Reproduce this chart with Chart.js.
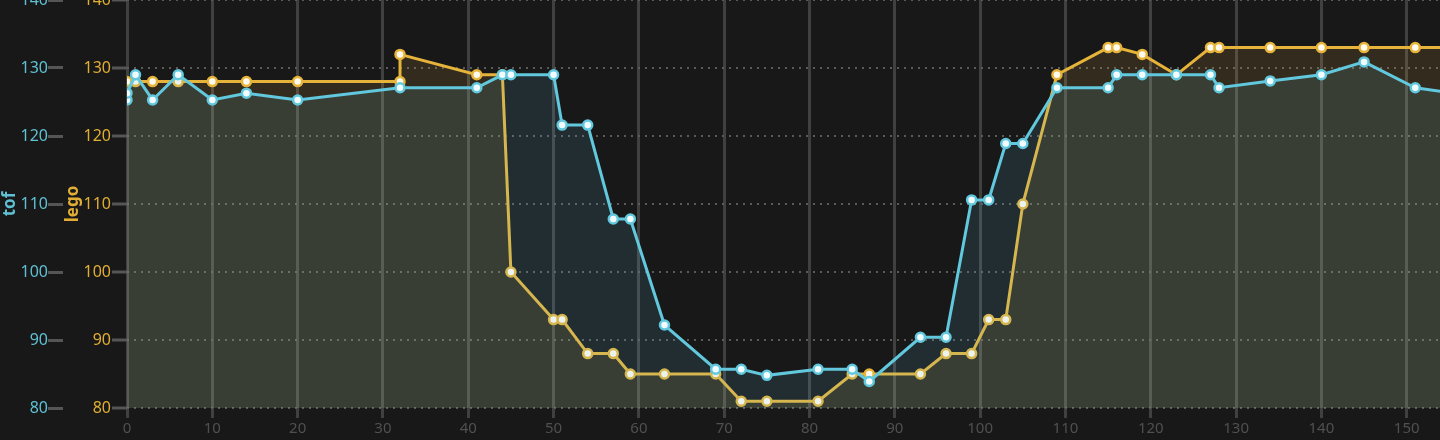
<!DOCTYPE html>
<html>
<head>
<meta charset="utf-8">
<script src="https://cdn.jsdelivr.net/npm/chart.js@4"></script>
<style>
  html, body { margin: 0; padding: 0; background: #181818; overflow: hidden; }
  #wrap { position: relative; width: 1440px; height: 440px; }
</style>
</head>
<body>
<div id="wrap"><canvas id="myChart"></canvas></div>
<script>
// tof series (cyan)
const tofX = [0, 0, 1, 3, 6, 10, 14, 20, 32, 41, 44, 45, 50, 51, 54, 57, 59, 63, 69, 72, 75, 81, 85, 87, 93, 96, 99, 101, 103, 105, 109, 115, 116, 119, 123, 127, 128, 134, 140, 145, 151, 156];
const tofY = [125.3, 126.3, 129, 125.3, 129, 125.3, 126.3, 125.3, 127.1, 127.1, 129, 129, 129, 121.6, 121.6, 107.8, 107.8, 92.2, 85.7, 85.7, 84.8, 85.7, 85.7, 83.9, 90.4, 90.4, 110.6, 110.6, 118.9, 118.9, 127.1, 127.1, 129, 129, 129, 129, 127.1, 128.1, 129, 130.9, 127.1, 126.2];

// lego series (yellow)
const legoX = [0, 1, 3, 6, 10, 14, 20, 32, 32, 41, 44, 45, 50, 51, 54, 57, 59, 63, 69, 72, 75, 81, 85, 87, 93, 96, 99, 101, 103, 105, 109, 115, 116, 119, 123, 127, 128, 134, 140, 145, 151, 156];
const legoY = [128, 128, 128, 128, 128, 128, 128, 128, 132, 129, 129, 100, 93, 93, 88, 88, 85, 85, 85, 81, 81, 81, 85, 85, 85, 88, 88, 93, 93, 110, 129, 133, 133, 132, 129, 133, 133, 133, 133, 133, 133, 133];

const yMin = 80, yMax = 140;
const xMin = 0, xMax = 153.9;

const cyan = 'rgb(98, 200, 222)';
const yellow = 'rgb(230, 180, 58)';
const font = 'Noto Sans';

const toPoints = (xs, ys) => xs.map((x, i) => ({ x: x, y: ys[i] }));

const ctx = document.getElementById('myChart').getContext('2d');
new Chart(ctx, {
  type: 'line',
  data: {
    datasets: [{
      label: 'tof',
      data: toPoints(tofX, tofY),
      yAxisID: 'tof',
      borderColor: cyan,
      borderWidth: 3,
      backgroundColor: 'rgba(99, 199, 232, 0.12)',
      pointBackgroundColor: '#f2fcff',
      pointBorderColor: cyan,
      pointBorderWidth: 2.5,
      pointRadius: 4.5,
      fill: 'origin',
      tension: 0
    }, {
      label: 'lego',
      data: toPoints(legoX, legoY),
      yAxisID: 'lego',
      borderColor: yellow,
      borderWidth: 3,
      backgroundColor: 'rgba(239, 178, 70, 0.13)',
      pointBackgroundColor: '#fffaf0',
      pointBorderColor: yellow,
      pointBorderWidth: 2.5,
      pointRadius: 4.5,
      fill: 'origin',
      tension: 0
    }]
  },
  options: {
    responsive: true,
    maintainAspectRatio: false,
    animation: false,
    layout: { padding: 0, autoPadding: false },
    plugins: {
      legend: { display: false },
      tooltip: { enabled: false }
    },
    scales: {
      x: {
        type: 'linear',
        min: xMin,
        max: xMax,
        ticks: { stepSize: 10, includeBounds: false, color: '#505050', font: { family: font, size: 15 }, padding: 2, maxRotation: 0 },
        grid: { color: '#404040', lineWidth: 3, tickLength: 10, tickColor: '#404040', tickWidth: 3 },
        border: { display: false },
        afterFit: axis => { axis.paddingRight = 0; axis.paddingLeft = 0; }
      },
      tof: {
        type: 'linear',
        position: 'left',
        weight: 1,
        min: yMin,
        max: yMax,
        ticks: { stepSize: 10, color: '#5fc0d4', font: { family: font, size: 16 }, padding: 0 },
        grid: { drawOnChartArea: false, tickLength: 15, tickColor: '#555', tickWidth: 3 },
        border: { display: false },
        title: { display: true, text: 'tof', color: '#5fc0d4', font: { family: font, size: 17, weight: 'bold' }, padding: 0 },
        afterFit: axis => { axis.width = 63; axis.paddingTop = 0; axis.paddingBottom = 0; }
      },
      lego: {
        type: 'linear',
        position: 'left',
        weight: 0,
        min: yMin,
        max: yMax,
        ticks: { stepSize: 10, color: '#e0ae34', font: { family: font, size: 16 }, padding: 1 },
        grid: { color: '#5a5a5a', lineWidth: 2, tickLength: 15, tickColor: '#555', tickWidth: 3 },
        border: { display: false, dash: [2, 5] },
        title: { display: true, text: 'lego', color: '#e0ae34', font: { family: font, size: 17, weight: 'bold' }, padding: 0 },
        afterFit: axis => { axis.width = 64; axis.paddingTop = 0; axis.paddingBottom = 0; }
      }
    }
  }
});
</script>
</body>
</html>
